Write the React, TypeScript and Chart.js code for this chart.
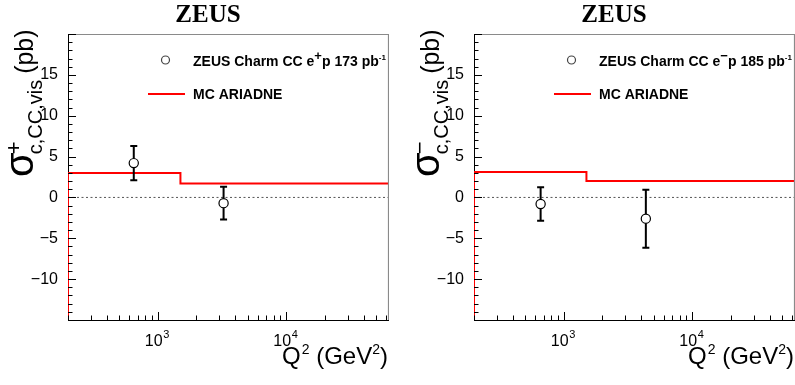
import React, { useEffect, useRef } from "react";
import { Chart, registerables } from "chart.js";

Chart.register(...registerables);

// ---- data ----
const xRange = [200, 63000];
const yRange = [-15, 20];
const yTickValues = [-10, -5, 0, 5, 10, 15];
const xTickValues = [1000, 10000];
const xTickExponents = ["3", "4"];

// left panel: e+p
const posQ2 = [650, 3250];
const posSigma = [4.2, -0.7];
const posErr = [2.1, 2.0];
const posMcEdges = [200, 1500, 63000];
const posMcValues = [3.0, 1.7];

// right panel: e-p
const negQ2 = [660, 4350];
const negSigma = [-0.8, -2.6];
const negErr = [2.05, 3.55];
const negMcEdges = [200, 1500, 63000];
const negMcValues = [3.1, 2.0];

const SANS = "'Liberation Sans', Arial, Helvetica, sans-serif";
const SERIF = "'Liberation Serif', 'Times New Roman', serif";

type PanelProps = {
  left: number;
  width: number;
  q2: number[];
  sigma: number[];
  err: number[];
  mcEdges: number[];
  mcValues: number[];
  charge: string;
  lumi: string;
};

function txt(ctx: CanvasRenderingContext2D, s: string, x: number, y: number, font: string, color = "#000") {
  ctx.font = font;
  ctx.fillStyle = color;
  ctx.textAlign = "left";
  ctx.textBaseline = "alphabetic";
  ctx.fillText(s, x, y);
  return ctx.measureText(s).width;
}

function Panel(p: PanelProps) {
  const ref = useRef<HTMLCanvasElement | null>(null);
  useEffect(() => {
    const canvas = ref.current;
    if (!canvas) return;
    const points = p.q2.map((q, i) => ({ x: q, y: p.sigma[i] }));
    const mcPts: { x: number; y: number }[] = [{ x: p.mcEdges[0], y: yRange[0] }];
    p.mcValues.forEach((v, i) => {
      mcPts.push({ x: p.mcEdges[i], y: v });
    });
    mcPts.push({ x: p.mcEdges[p.mcEdges.length - 1], y: p.mcValues[p.mcValues.length - 1] });

    const deco = {
      id: "deco",
      beforeDatasetDraw(chart: any, args: any) {
        if (args.index !== 0) return;
        const { ctx, scales } = chart;
        ctx.save();
        ctx.strokeStyle = "#000";
        ctx.lineWidth = 2;
        p.q2.forEach((q, i) => {
          const px = scales.x.getPixelForValue(q);
          const y1 = scales.y.getPixelForValue(p.sigma[i] + p.err[i]);
          const y2 = scales.y.getPixelForValue(p.sigma[i] - p.err[i]);
          ctx.beginPath();
          ctx.moveTo(px, y1);
          ctx.lineTo(px, y2);
          ctx.moveTo(px - 3.5, y1);
          ctx.lineTo(px + 3.5, y1);
          ctx.moveTo(px - 3.5, y2);
          ctx.lineTo(px + 3.5, y2);
          ctx.stroke();
        });
        ctx.restore();
      },
      afterDraw(chart: any) {
        const { ctx, chartArea, scales } = chart;
        const { left, right, top, bottom } = chartArea;
        ctx.save();
        // frame top / right
        ctx.strokeStyle = "#8a8a8a";
        ctx.lineWidth = 1.2;
        ctx.beginPath();
        ctx.moveTo(left, top + 0.5);
        ctx.lineTo(right - 0.5, top + 0.5);
        ctx.lineTo(right - 0.5, bottom);
        ctx.stroke();
        // y ticks
        ctx.strokeStyle = "#000";
        ctx.lineWidth = 1;
        ctx.beginPath();
        for (let v = yRange[0]; v <= yRange[1]; v += 1) {
          const py = Math.round(scales.y.getPixelForValue(v)) + 0.5;
          const len = v % 5 === 0 ? 8 : 4.5;
          ctx.moveTo(left, py);
          ctx.lineTo(left + len, py);
        }
        // x ticks
        for (let d = 100; d <= 100000; d *= 10) {
          for (let m = 1; m <= 9; m++) {
            const v = m * d;
            if (v < xRange[0] || v > xRange[1]) continue;
            const px = Math.round(scales.x.getPixelForValue(v)) + 0.5;
            const len = m === 1 ? 8 : 4.5;
            ctx.moveTo(px, bottom);
            ctx.lineTo(px, bottom - len);
          }
        }
        ctx.stroke();

        // x tick labels
        xTickValues.forEach((v, i) => {
          const px = scales.x.getPixelForValue(v);
          ctx.font = `16px ${SANS}`;
          const w1 = ctx.measureText("10").width;
          ctx.font = `11px ${SANS}`;
          const w2 = ctx.measureText(xTickExponents[i]).width;
          const x0 = px - (w1 + w2) / 2 - 1;
          txt(ctx, "10", x0, 346, `16px ${SANS}`);
          txt(ctx, xTickExponents[i], x0 + w1 + 0.5, 338, `11px ${SANS}`);
        });

        // x title
        {
          const F = `24px ${SANS}`;
          const S = `14px ${SANS}`;
          ctx.font = F;
          const wQ = ctx.measureText("Q").width;
          const wM = ctx.measureText(" (GeV").width;
          const wP = ctx.measureText(")").width;
          ctx.font = S;
          const w2 = ctx.measureText("2").width;
          let x0 = right - (wQ + wM + wP + 2 * w2 + 2);
          const by = 364;
          x0 += txt(ctx, "Q", x0, by, F);
          x0 += txt(ctx, "2", x0 + 1, by - 10, S) + 1;
          x0 += txt(ctx, " (GeV", x0, by, F);
          x0 += txt(ctx, "2", x0, by - 10, S);
          txt(ctx, ")", x0, by, F);
        }

        // y title (rotated)
        ctx.save();
        ctx.translate(33, 177);
        ctx.rotate(-Math.PI / 2);
        const wSig = txt(ctx, "σ", 0, 0, `40px ${SANS}`);
        txt(ctx, p.charge, wSig - 2, -12, `22px ${SANS}`);
        const wSub = txt(ctx, "c,CC,vis", wSig - 2, 9, `20px ${SANS}`);
        txt(ctx, "(pb)", wSig + wSub + 4, 0, `25px ${SANS}`);
        ctx.restore();

        // title
        ctx.font = `bold 25px ${SERIF}`;
        ctx.textAlign = "center";
        ctx.fillStyle = "#000";
        ctx.fillText("ZEUS", 208, 22);

        // legend
        ctx.strokeStyle = "#444";
        ctx.lineWidth = 1.2;
        ctx.beginPath();
        ctx.arc(165.5, 60, 4, 0, Math.PI * 2);
        ctx.stroke();
        const B = `bold 14px ${SANS}`;
        let lx = 193;
        lx += txt(ctx, "ZEUS Charm CC e", lx, 66, B);
        lx += txt(ctx, p.charge, lx, 60, `bold 13px ${SANS}`);
        lx += txt(ctx, "p " + p.lumi + " pb", lx, 66, B);
        txt(ctx, "-1", lx, 60, `bold 8px ${SANS}`);

        ctx.strokeStyle = "#ff0000";
        ctx.lineWidth = 2;
        ctx.beginPath();
        ctx.moveTo(148, 94);
        ctx.lineTo(185, 94);
        ctx.stroke();
        txt(ctx, "MC ARIADNE", 193, 99, B);
        ctx.restore();
      },
    };

    const chart = new Chart(canvas, {
      type: "line",
      data: {
        datasets: [
          {
            label: "data",
            data: points,
            showLine: false,
            pointRadius: 4.6,
            pointBackgroundColor: "#fff",
            pointBorderColor: "#000",
            pointBorderWidth: 1.2,
          },
          {
            label: "MC ARIADNE",
            data: mcPts,
            stepped: true,
            borderColor: "#ff0000",
            borderWidth: 2,
            pointRadius: 0,
            fill: false,
          },
          {
            label: "zero",
            data: [
              { x: xRange[0], y: 0 },
              { x: xRange[1], y: 0 },
            ],
            borderColor: "#555",
            borderDash: [2, 2.5],
            borderWidth: 1,
            pointRadius: 0,
            fill: false,
          },
        ],
      },
      options: {
        animation: false,
        responsive: false,
        layout: { autoPadding: false, padding: { top: 34, right: 0, left: 0, bottom: 0 } },
        plugins: { legend: { display: false }, tooltip: { enabled: false }, title: { display: false } },
        scales: {
          x: {
            type: "logarithmic",
            min: xRange[0],
            max: xRange[1],
            grid: { display: false },
            border: { color: "#000", width: 1 },
            ticks: { display: false },
            afterFit: (s: any) => {
              s.height = 65;
            },
          },
          y: {
            type: "linear",
            min: yRange[0],
            max: yRange[1],
            grid: { display: false },
            border: { color: "#000", width: 1 },
            afterBuildTicks: (s: any) => {
              s.ticks = yTickValues.map((v) => ({ value: v }));
            },
            ticks: {
              color: "#000",
              padding: 2,
              font: { family: SANS, size: 16 },
              callback: (v: any) => (Number(v) < 0 ? "\u2212" + Math.abs(Number(v)) : String(v)),
            },
            afterFit: (s: any) => {
              s.width = 68;
            },
          },
        },
      },
      plugins: [deco],
    } as any);
    return () => chart.destroy();
  }, []);
  return (
    <canvas
      ref={ref}
      width={p.width}
      height={385}
      style={{ position: "absolute", left: p.left, top: 0, width: p.width, height: 385, display: "block" }}
    />
  );
}

export default function App() {
  return (
    <div style={{ position: "absolute", left: 0, top: 0, width: 795, height: 385, background: "#fff", overflow: "hidden" }}>
      <Panel left={0} width={389} q2={posQ2} sigma={posSigma} err={posErr} mcEdges={posMcEdges} mcValues={posMcValues} charge="+" lumi="173" />
      <Panel left={406} width={389} q2={negQ2} sigma={negSigma} err={negErr} mcEdges={negMcEdges} mcValues={negMcValues} charge={"\u2212"} lumi="185" />
    </div>
  );
}
